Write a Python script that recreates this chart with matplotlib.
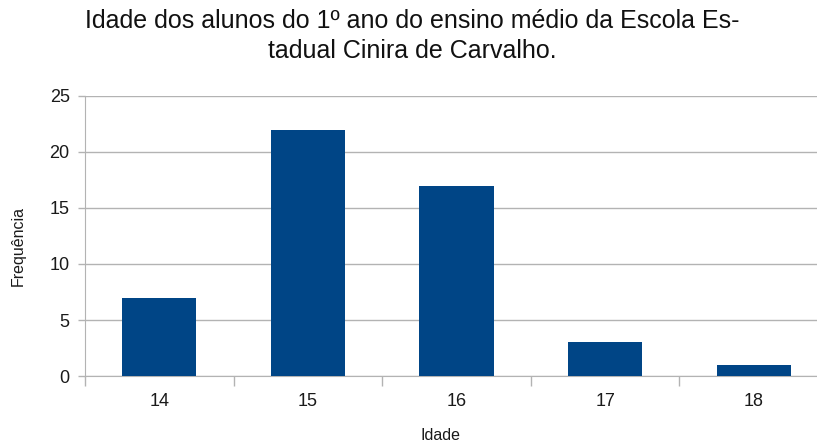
import matplotlib
matplotlib.use("Agg")
import matplotlib.pyplot as plt

categories = ["14", "15", "16", "17", "18"]
values = [7, 22, 17, 3, 1]
yticks = [0, 5, 10, 15, 20, 25]
title = "Idade dos alunos do 1º ano do ensino médio da Escola Es-\ntadual Cinira de Carvalho."
xlabel = "Idade"
ylabel = "Frequência"

plt.rcParams['font.family'] = ['Liberation Sans', 'DejaVu Sans']

W, H = 817, 444
fig = plt.figure(figsize=(W / 100, H / 100), dpi=100)
left, right, top, bottom = 85, 828, 96, 376
ax = fig.add_axes([left / W, 1 - bottom / H, (right - left) / W, (bottom - top) / H])

bar_color = "#004586"
grid_color = "#b3b3b3"
x = list(range(len(categories)))
ax.bar(x, values, width=0.5, color=bar_color, zorder=3)

ax.set_xlim(-0.5, len(categories) - 0.5)
ax.set_ylim(0, 25)
ax.set_yticks(yticks)
ax.set_yticklabels([str(v) for v in yticks], fontsize=13, color="#1a1a1a")
ax.yaxis.grid(True, color=grid_color, linewidth=1, zorder=0)

ax.set_xticks(x)
ax.set_xticklabels(categories, fontsize=13, color="#1a1a1a")
ax.tick_params(axis='x', length=0, pad=12)
ax.set_xticks([i - 0.5 for i in range(len(categories) + 1)], minor=True)
ax.tick_params(axis='x', which='minor', length=7, color=grid_color, width=1)
ax.tick_params(axis='y', length=5, color=grid_color, width=1, pad=6)

for s in ['top', 'right']:
    ax.spines[s].set_visible(False)
ax.spines['left'].set_color(grid_color)
ax.spines['bottom'].set_color(grid_color)

fig.text(0.505, 1 - 36 / H, title, ha='center', va='center', fontsize=18,
         color="#111111", linespacing=1.3)
fig.text(440 / W, 1 - 435 / H, xlabel, ha='center', va='center', fontsize=11.5, color="#1a1a1a")
fig.text(18 / W, 1 - 246 / H, ylabel, ha='center', va='center', rotation=90,
         fontsize=11.5, color="#1a1a1a")

fig.savefig("out.png", dpi=100)
